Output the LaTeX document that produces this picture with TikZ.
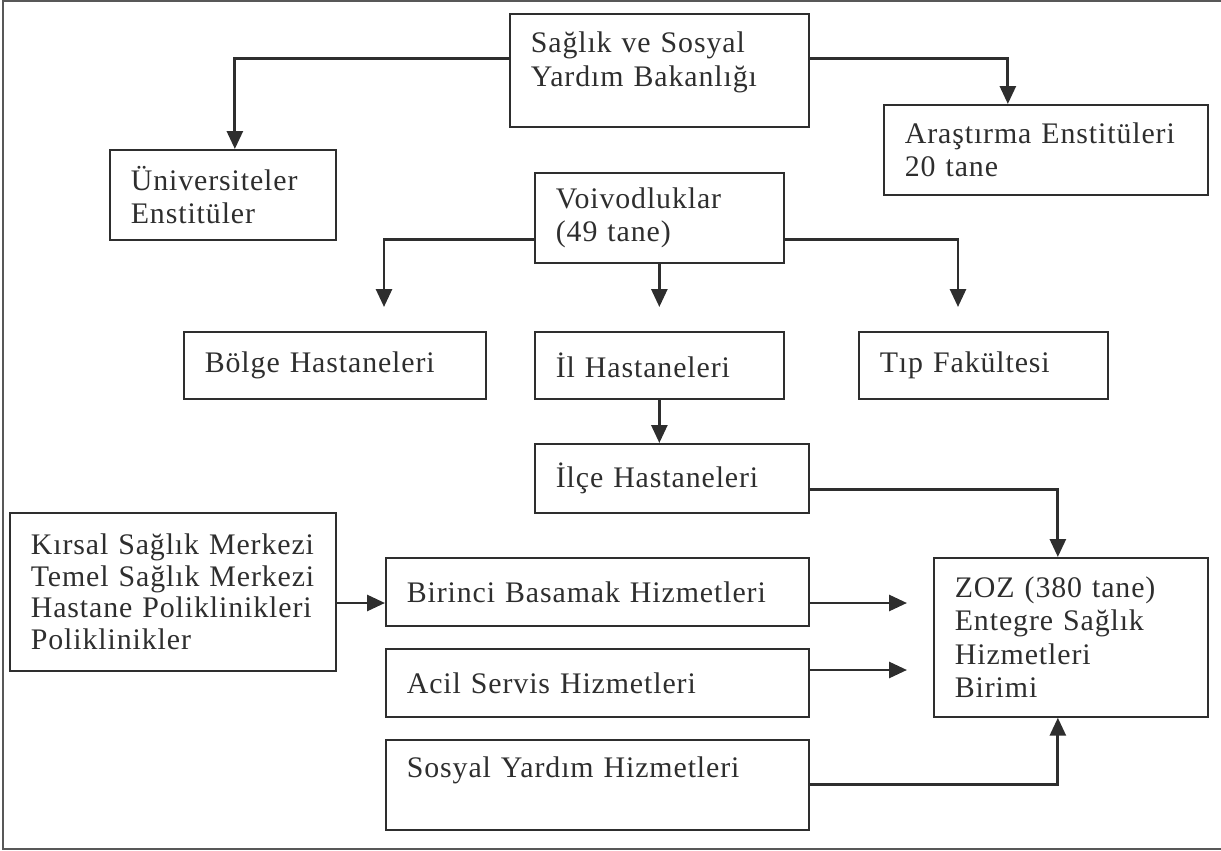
\documentclass[tikz,border=0pt]{standalone}
\usepackage{fontspec}
\setmainfont[LetterSpace=3]{Liberation Serif}
\usepackage{tikz}
\usetikzlibrary{arrows.meta}
\usepackage{xcolor}
\definecolor{ink}{HTML}{2E2E2E}

\begin{document}
\begin{tikzpicture}[x=0.02cm,y=-0.02cm,>={Triangle[length=0.36cm,width=0.32cm]},
  box/.style={draw=ink,line width=1pt,anchor=north west,inner xsep=0.42cm,inner ysep=0pt,
    align=left,text=ink,font=\fontsize{17}{19}\selectfont},
  link/.style={->,draw=ink,line width=1.6pt}]
\useasboundingbox (0,0) rectangle (1221,851);
\draw[ink!80,line width=0.7pt] (1221,1) -- (3,1) -- (3,849) -- (1221,849);
\node[box,minimum width=5.98cm,minimum height=2.26cm,text width=5.14cm] (bakan) at (509,13)
  {Sağlık ve Sosyal\\Yardım Bakanlığı\rule[-0.45cm]{0pt}{0pt}};
\node[box,minimum width=4.52cm,minimum height=1.8cm,text width=3.68cm] (univ) at (109,149)
  {Üniversiteler\\Enstitüler};
\node[box,minimum width=6.48cm,minimum height=1.8cm,text width=5.64cm] (arast) at (883,104)
  {Araştırma Enstitüleri\\20 tane};
\node[box,minimum width=4.98cm,minimum height=1.8cm,text width=4.14cm] (voiv) at (534,172)
  {Voivodluklar\\(49 tane)};
\node[box,minimum width=6.04cm,minimum height=1.34cm,text width=5.2cm] (bolge) at (183,331)
  {Bölge Hastaneleri};
\node[box,minimum width=4.98cm,minimum height=1.34cm,text width=4.14cm] (il) at (534,331)
  {İl Hastaneleri};
\node[box,minimum width=4.98cm,minimum height=1.34cm,text width=4.14cm] (tip) at (858,331)
  {Tıp Fakültesi};
\node[box,minimum width=5.48cm,minimum height=1.38cm,text width=4.64cm] (ilce) at (534,443)
  {İlçe Hastaneleri};
\node[box,minimum width=6.52cm,minimum height=3.16cm,text width=5.68cm,
  font=\fontsize{17}{18}\selectfont] (kirsal) at (9,512)
  {Kırsal Sağlık Merkezi\\Temel Sağlık Merkezi\\Hastane Poliklinikleri\\Poliklinikler};
\node[box,minimum width=8.46cm,minimum height=1.36cm,text width=7.62cm] (birinci) at (385,557)
  {Birinci Basamak Hizmetleri};
\node[box,minimum width=8.46cm,minimum height=1.36cm,text width=7.62cm] (acil) at (385,648)
  {Acil Servis Hizmetleri};
\node[box,minimum width=8.46cm,minimum height=1.8cm,text width=7.62cm] (sosyal) at (385,739)
  {Sosyal Yardım Hizmetleri\rule[-0.7cm]{0pt}{0pt}};
\node[box,minimum width=5.48cm,minimum height=3.18cm,text width=4.64cm] (zoz) at (933,557)
  {ZOZ (380 tane)\\Entegre Sağlık\\Hizmetleri\\Birimi};
\coordinate (bolgein) at (384,307);
\coordinate (tipin) at (958,307);
\coordinate (zozin1) at (907,603);
\coordinate (zozin2) at (907,670);
\draw[link] ([yshift=0.23cm]bakan.west) -| ([xshift=0.24cm]univ.north);
\draw[link] ([yshift=0.23cm]bakan.east) -| ([xshift=-0.76cm]arast.north);
\draw[link] ([yshift=-0.44cm]voiv.west) -| (bolgein);
\draw[link] (voiv.south) -- (voiv.south |- bolgein);
\draw[link] ([yshift=-0.44cm]voiv.east) -| (tipin);
\draw[link] (il.south) -- (il.south |- ilce.north);
\draw[link] ([yshift=-0.23cm]ilce.east) -| ([xshift=-0.26cm]zoz.north);
\draw[link] (zozin1 -| kirsal.east) -- (zozin1 -| birinci.west);
\draw[link] (zozin1 -| birinci.east) -- (zozin1);
\draw[link] (zozin2 -| acil.east) -- (zozin2);
\draw[link] (sosyal.east) -| ([xshift=-0.26cm]zoz.south);
\end{tikzpicture}
\end{document}
